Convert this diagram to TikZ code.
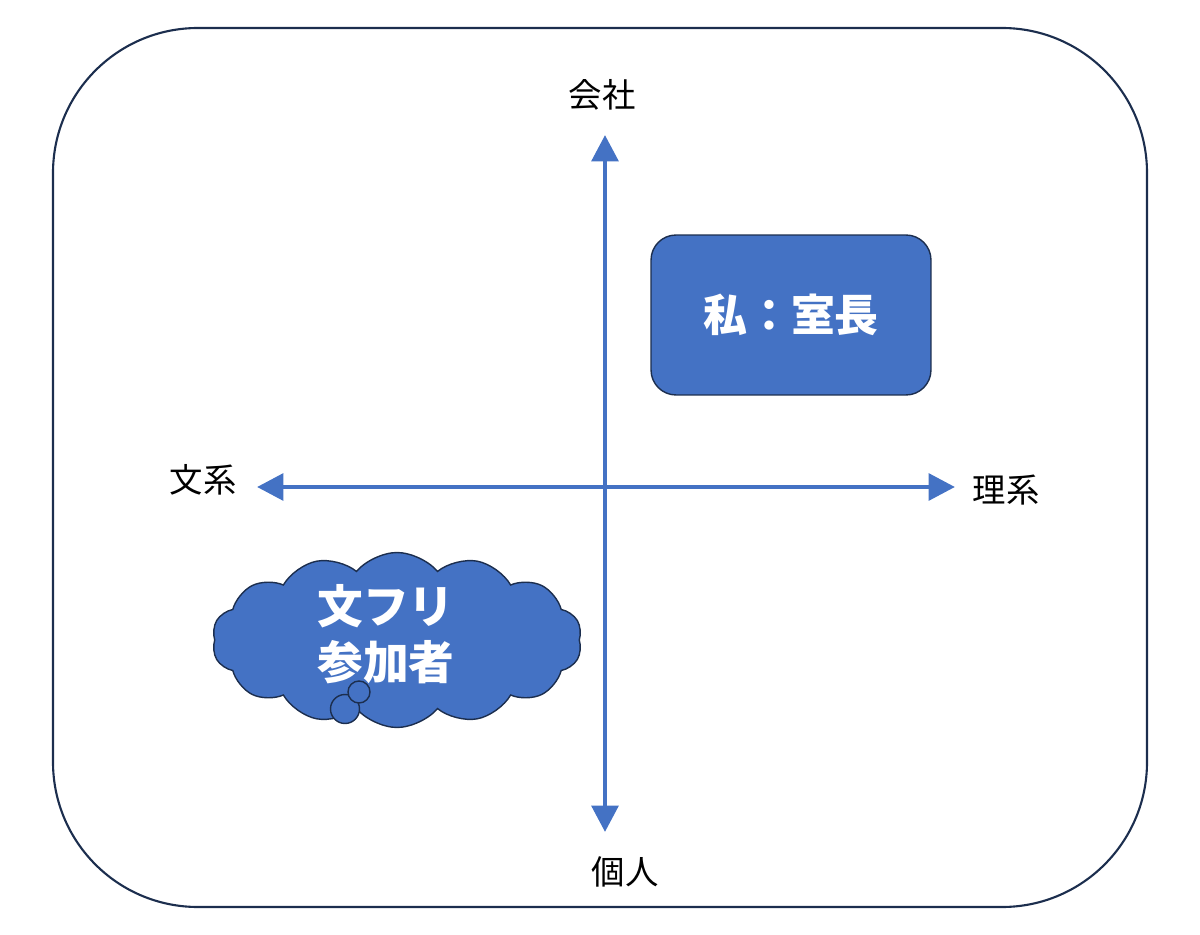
\documentclass[tikz,border=0pt]{standalone}
\usepackage{fontspec}
\setmainfont{Noto Sans CJK JP}
\usetikzlibrary{positioning,arrows.meta,shapes.symbols}
\definecolor{boxblue}{HTML}{4472C4}
\definecolor{navy}{HTML}{1C2E4E}
\begin{document}
\begin{tikzpicture}[x=0.02cm,y=-0.02cm,
  axisline/.style={{Triangle[length=15pt,width=15pt]}-{Triangle[length=15pt,width=15pt]},line width=2.8pt,draw=boxblue},
  axislabel/.style={font=\fontsize{19}{22}\selectfont},
  bluebox/.style={draw=navy,fill=boxblue,line width=0.8pt,text=white,font=\fontsize{25}{31}\selectfont\bfseries}]
   \useasboundingbox (0,0) rectangle (1200,935);
   \draw[navy,line width=1.2pt,rounded corners=2.9cm] (53,28) rectangle (1147,907);
   % axis ends
   \coordinate (north) at (605,135);
   \coordinate (south) at (605,832);
   \coordinate (west)  at (257,487);
   \coordinate (east)  at (955,487);
   \draw[axisline] (south) -- (north);
   \draw[axisline] (west) -- (east);
   \node[axislabel] (kaisha) at (602,95)  {会社};
   \node[axislabel] (kojin)  at (625,872) {個人};
   \node[axislabel] (bunkei) at (203,480) {文系};
   \node[axislabel] (rikei)  at (1006,490) {理系};
   % me
   \node[bluebox,rounded corners=0.5cm,minimum width=5.6cm,minimum height=3.2cm] (me) at (791,315) {私：室長};
   % cloud
   \node[bluebox,cloud,cloud puffs=14,cloud puff arc=100,aspect=2.1,minimum width=7.4cm,minimum height=3.5cm,inner sep=0pt] (fanfest) at (397,640) {};
   \node[bluebox,circle,minimum size=0.58cm,inner sep=0pt] (puffa) at (345,709) {};
   \node[bluebox,circle,minimum size=0.44cm,inner sep=0pt] (puffb) at (359,692) {};
   \node[bluebox,draw=none,fill=none,align=center,font=\fontsize{26}{32}\selectfont\bfseries] (fanfesttext) at (386,634) {文フリ\\参加者};
\end{tikzpicture}
\end{document}
